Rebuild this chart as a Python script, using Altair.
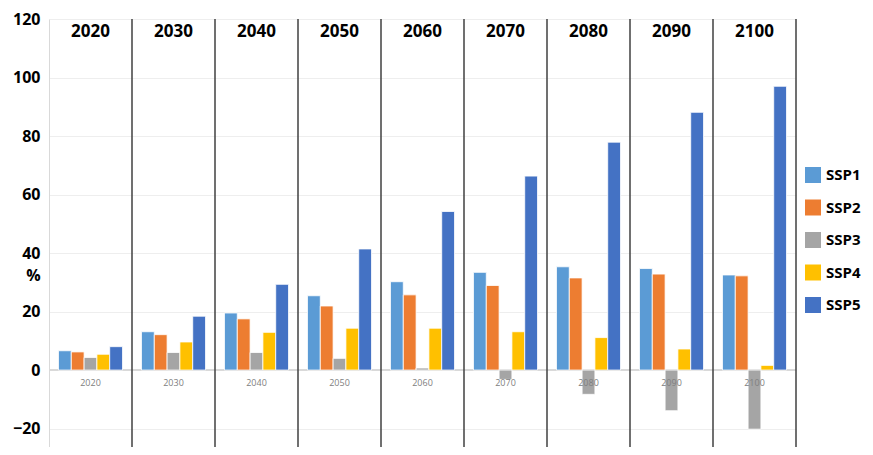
import altair as alt
import pandas as pd

years = ["2020", "2030", "2040", "2050", "2060", "2070", "2080", "2090", "2100"]
scenarios = ["SSP1", "SSP2", "SSP3", "SSP4", "SSP5"]
ssp1 = [6.6, 13.1, 19.5, 25.4, 30.2, 33.4, 35.3, 34.7, 32.5]
ssp2 = [6.2, 12.1, 17.5, 21.9, 25.7, 28.9, 31.5, 32.8, 32.2]
ssp3 = [4.3, 6.0, 6.0, 4.0, 0.7, -3.2, -8.3, -13.9, -20.2]
ssp4 = [5.4, 9.6, 12.9, 14.3, 14.3, 13.1, 11.1, 7.2, 1.6]
ssp5 = [8.0, 18.4, 29.3, 41.4, 54.2, 66.3, 77.9, 88.1, 97.0]
colors = ["#5B9BD5", "#ED7D31", "#A5A5A5", "#FFC000", "#4472C4"]
y_ticks = [-20, 0, 20, 40, 60, 80, 100, 120]

series = [ssp1, ssp2, ssp3, ssp4, ssp5]
rows = []
for s, vals in zip(scenarios, series):
    for y, v in zip(years, vals):
        rows.append({"year": y, "ssp": s, "value": v})
df = pd.DataFrame(rows)
ydf = pd.DataFrame({"year": years})

FONT = "Open Sans"
W, H = 747, 428

xscale = alt.Scale(domain=years, paddingInner=0, paddingOuter=0)
yscale = alt.Scale(domain=[-26.3, 120], nice=False, zero=False)

bars = alt.Chart(df).mark_bar(stroke="white", strokeWidth=0.8).encode(
    x=alt.X("year:N", scale=xscale, axis=None, sort=years),
    xOffset=alt.XOffset("ssp:N", scale=alt.Scale(domain=scenarios, paddingOuter=0.74, paddingInner=0)),
    y=alt.Y("value:Q", scale=yscale,
            axis=alt.Axis(values=y_ticks, title="%", titleAngle=0, titleX=-16, titleY=256,
                          titleAlign="center", titleBaseline="middle", titleFont=FONT,
                          titleFontSize=16, titleFontWeight="bold", titleColor="black",
                          labelFont=FONT, labelFontSize=16, labelFontWeight="bold",
                          labelColor="black", labelPadding=9, ticks=False,
                          domain=True, domainColor="#d9d9d9", grid=True,
                          gridColor="#eeeeee", labelFlush=False)),
    color=alt.Color("ssp:N", scale=alt.Scale(domain=scenarios, range=colors),
                    legend=alt.Legend(title=None, orient="none", legendX=756, legendY=148,
                                      symbolType="square", symbolSize=256, symbolStrokeWidth=0,
                                      labelFont=FONT, labelFontSize=15, labelFontWeight="bold",
                                      labelColor="black", labelOffset=5, rowPadding=16.5,
                                      padding=0)),
)

zero = alt.Chart(ydf).mark_rule(color="#d9d9d9", strokeWidth=2).encode(
    y=alt.datum(0), x=alt.value(0), x2=alt.value(W)
)

seps = alt.Chart(ydf).mark_rule(color="#404040", strokeWidth=1.5).encode(
    x=alt.X("year:N", bandPosition=1, scale=xscale, sort=years),
    y=alt.value(0), y2=alt.value(H)
)

top_labels = alt.Chart(ydf).mark_text(font=FONT, fontSize=17, fontWeight="bold",
                                      color="black", baseline="middle").encode(
    x=alt.X("year:N", scale=xscale, sort=years),
    y=alt.value(12.5),
    text="year:N",
)

small_labels = alt.Chart(ydf).mark_text(font=FONT, fontSize=9, color="#808080",
                                        baseline="middle", dy=12.7).encode(
    x=alt.X("year:N", scale=xscale, sort=years),
    y=alt.datum(0),
    text="year:N",
)

chart = alt.layer(zero, bars, small_labels, seps, top_labels).properties(
    width=W, height=H,
    autosize=alt.AutoSizeParams(type="none"),
    padding={"left": 41, "top": 11, "right": 68, "bottom": 0},
    background="white",
).configure_view(stroke=None)

chart.save("out.html", embed_options={"renderer": "svg", "actions": False})
